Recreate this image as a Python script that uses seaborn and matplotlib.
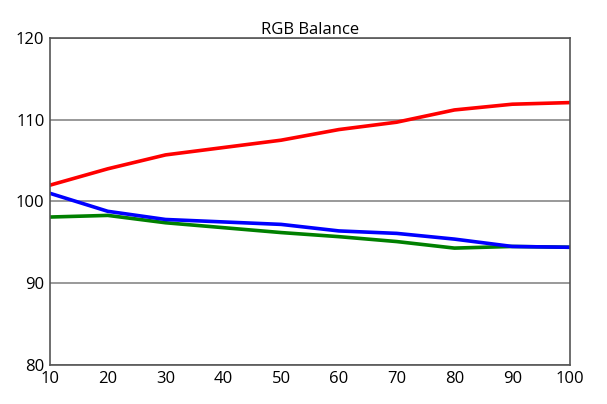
import matplotlib
matplotlib.use("Agg")
import matplotlib.pyplot as plt
import seaborn as sns
import pandas as pd

levels = [10, 20, 30, 40, 50, 60, 70, 80, 90, 100]
red = [102.0, 104.0, 105.7, 106.6, 107.5, 108.8, 109.7, 111.2, 111.9, 112.1]
green = [98.1, 98.3, 97.4, 96.8, 96.2, 95.7, 95.1, 94.3, 94.5, 94.4]
blue = [101.0, 98.8, 97.8, 97.5, 97.2, 96.4, 96.1, 95.4, 94.5, 94.4]

df = pd.DataFrame({"level": levels * 3,
                   "value": red + green + blue,
                   "channel": ["R"] * 10 + ["G"] * 10 + ["B"] * 10})

sns.set_style("white")
plt.rcParams['font.family'] = ['Open Sans', 'DejaVu Sans']

fig = plt.figure(figsize=(6.07, 4.04), dpi=100)
ax = fig.add_axes([50 / 607, 1 - 365 / 404, 520 / 607, 327 / 404])
sns.lineplot(data=df, x="level", y="value", hue="channel",
             palette={"R": "#ff0000", "G": "#008000", "B": "#0000ff"},
             linewidth=2.6, legend=False, ax=ax)

ax.set_xlim(10, 100)
ax.set_ylim(80, 120)
ax.set_xticks(levels)
ax.set_yticks([80, 90, 100, 110, 120])
ax.yaxis.grid(True, color="#888888", linewidth=1.2)
ax.set_xlabel("")
ax.set_ylabel("")
ax.set_title("RGB Balance", fontsize=12, color="black", pad=3)
ax.tick_params(labelsize=12, length=0, pad=4, colors="black")
for s in ax.spines.values():
    s.set_color("#555555")
    s.set_linewidth(1.2)

fig.savefig("out.png", dpi=100)
